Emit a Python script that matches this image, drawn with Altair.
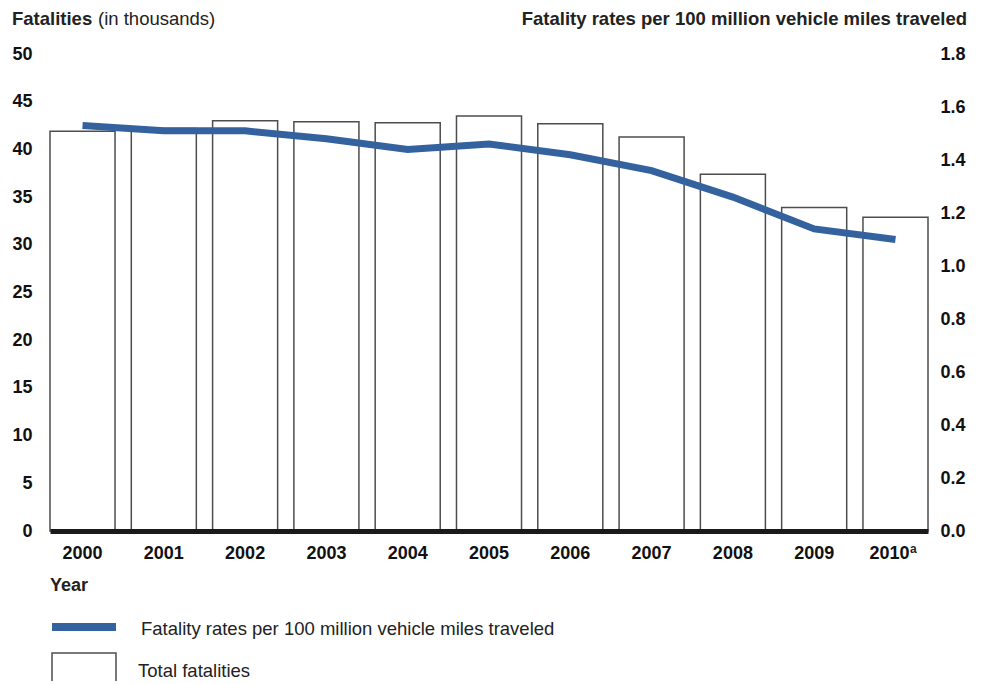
import altair as alt
import pandas as pd

years = ["2000", "2001", "2002", "2003", "2004", "2005", "2006", "2007", "2008", "2009", "2010ᵃ"]
fatalities = [41.9, 42.2, 43.0, 42.9, 42.8, 43.5, 42.7, 41.3, 37.4, 33.9, 32.9]
rates = [1.53, 1.51, 1.51, 1.48, 1.44, 1.46, 1.42, 1.36, 1.26, 1.14, 1.10]
left_ticks = [0, 5, 10, 15, 20, 25, 30, 35, 40, 45, 50]
right_ticks = [0.0, 0.2, 0.4, 0.6, 0.8, 1.0, 1.2, 1.4, 1.6, 1.8]

df = pd.DataFrame({"year": years, "fatalities": fatalities, "rate": rates})
one = pd.DataFrame({"a": [0]})

FONT = "Liberation Sans"
BLUE = "#33629e"
W, H = 878, 477

xenc = alt.X(
    "year:N",
    sort=years,
    scale=alt.Scale(paddingInner=0.2, paddingOuter=0),
    axis=alt.Axis(
        title=None, labelAngle=0, ticks=False, tickSize=0, domain=True,
        domainWidth=5, domainColor="#1a1a1a", labelPadding=13,
        labelFontSize=18, labelFontWeight="bold", labelColor="#111",
        labelExpr="replace(datum.label, 'ᵃ', '')",
        labelOffset={"condition": {"test": "datum.value == '2010ᵃ'", "value": -6}, "value": 0},
        zindex=1,
    ),
)

bars = alt.Chart(df).mark_bar(fill="white", stroke="#4d4d4d", strokeWidth=1.5).encode(
    x=xenc,
    y=alt.Y(
        "fatalities:Q",
        scale=alt.Scale(domain=[0, 50], nice=False),
        axis=alt.Axis(
            orient="left", title=None, values=left_ticks, grid=False, ticks=False,
            tickSize=0, domain=False, labelPadding=18, labelFontSize=18,
            labelFontWeight="bold", labelColor="#111", format="d",
        ),
    ),
)

line = alt.Chart(df).mark_line(color=BLUE, strokeWidth=7, strokeCap="butt").encode(
    x=alt.X("year:N", sort=years),
    y=alt.Y(
        "rate:Q",
        scale=alt.Scale(domain=[0, 1.8], nice=False),
        axis=alt.Axis(
            orient="right", title=None, values=right_ticks, grid=False, ticks=False,
            tickSize=0, domain=False, labelPadding=12, labelFontSize=18,
            labelFontWeight="bold", labelColor="#111", format=".1f",
        ),
    ),
)

def txt(text, x, y, weight="normal", align="left", size=18.5):
    return alt.Chart(one).mark_text(
        text=text, font=FONT, fontSize=size, fontWeight=weight, align=align,
        baseline="alphabetic", color="#222",
    ).encode(x=alt.value(x), y=alt.value(y))

t1 = txt("Fatalities", -38, -29, "bold")
t2 = txt("(in thousands)", 48, -29)
t3 = txt("Fatality rates per 100 million vehicle miles traveled", 917, -29, "bold", "right")
t4 = txt("Year", 0, 537, "bold", size=18)
t5 = txt("Fatality rates per 100 million vehicle miles traveled", 91, 581)
t6 = txt("Total fatalities", 88, 623)
sup = txt("a", 860, 499, "bold", size=12)

leg_line = alt.Chart(one).mark_rule(color=BLUE, strokeWidth=8).encode(
    x=alt.value(2), x2=alt.value(66), y=alt.value(573)
)
leg_box = alt.Chart(one).mark_rect(fill="white", stroke="#4d4d4d", strokeWidth=1.5).encode(
    x=alt.value(2), x2=alt.value(66), y=alt.value(599), y2=alt.value(660)
)

chart = (
    alt.layer(bars, line, t1, t2, t3, t4, t5, t6, sup, leg_line, leg_box)
    .resolve_scale(y="independent")
    .properties(
        width=W, height=H,
        autosize=alt.AutoSizeParams(type="none"),
        padding={"left": 42, "top": 46, "right": 51, "bottom": 150},
    )
    .configure(font=FONT)
    .configure_view(stroke=None)
)

chart.save("out.html", embed_options={"renderer": "svg", "actions": False})
